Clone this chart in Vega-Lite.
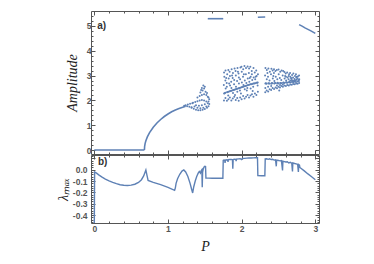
{
"$schema": "https://vega.github.io/schema/vega-lite/v6.json",
"autosize": {"type": "pad"},
"padding": {"left": 55, "top": 10, "right": 5, "bottom": 5},
"background": "white",
"spacing": 1,
"bounds": "flush",
"config": {
  "view": {"stroke": "#555", "strokeWidth": 1},
  "axis": {"domain": false, "grid": false, "labelFont": "Liberation Sans", "labelFontSize": 8.5, "labelFontWeight": "bold", "labelColor": "#555", "tickColor": "#555", "titleFont": "Liberation Serif", "titleFontStyle": "italic", "titleFontWeight": "normal", "titleColor": "#222", "titleFontSize": 14}
},
"datasets": {
  "curves": [
    {"g":"z","P":0,"A":0},{"g":"z","P":0.68,"A":0},
    {"g":"r","P":0.68,"A":0},{"g":"r","P":0.683,"A":0.15},{"g":"r","P":0.69,"A":0.27},{"g":"r","P":0.70,"A":0.37},{"g":"r","P":0.72,"A":0.53},{"g":"r","P":0.75,"A":0.70},{"g":"r","P":0.80,"A":0.92},{"g":"r","P":0.85,"A":1.09},{"g":"r","P":0.90,"A":1.23},{"g":"r","P":0.95,"A":1.35},{"g":"r","P":1.00,"A":1.45},{"g":"r","P":1.05,"A":1.54},{"g":"r","P":1.10,"A":1.61},{"g":"r","P":1.15,"A":1.67},{"g":"r","P":1.20,"A":1.72},{"g":"r","P":1.24,"A":1.76},
    {"g":"s1","P":1.54,"A":5.29},{"g":"s1","P":1.75,"A":5.29},
    {"g":"s2","P":2.22,"A":5.35},{"g":"s2","P":2.32,"A":5.36},
    {"g":"s3","P":2.78,"A":5.05},{"g":"s3","P":2.82,"A":4.99},{"g":"s3","P":2.86,"A":4.92},{"g":"s3","P":2.90,"A":4.86},{"g":"s3","P":2.94,"A":4.80},{"g":"s3","P":2.97,"A":4.75},{"g":"s3","P":3.00,"A":4.70}
  ],
  "pts": [
    {"P":1.22,"A":1.78},{"P":1.24,"A":1.80},{"P":1.26,"A":1.76},{"P":1.27,"A":1.83},{"P":1.29,"A":1.74},{"P":1.30,"A":1.86},{"P":1.32,"A":1.72},{"P":1.33,"A":1.88},
    {"P":1.32,"A":1.70},{"P":1.35,"A":1.66},{"P":1.38,"A":1.62},{"P":1.41,"A":1.60},{"P":1.44,"A":1.60},{"P":1.47,"A":1.62},{"P":1.50,"A":1.65},{"P":1.53,"A":1.70},{"P":1.55,"A":1.76},
    {"P":1.34,"A":1.90},{"P":1.37,"A":1.93},{"P":1.40,"A":1.96},{"P":1.43,"A":2.0},{"P":1.46,"A":2.02},{"P":1.49,"A":2.0},{"P":1.52,"A":1.95},{"P":1.54,"A":1.88},{"P":1.38,"A":1.80},{"P":1.42,"A":1.78},{"P":1.46,"A":1.80},{"P":1.50,"A":1.84},
    {"P":1.55,"A":1.95},{"P":1.56,"A":2.05},{"P":1.55,"A":2.12},{"P":1.56,"A":1.85},
    {"P":1.40,"A":2.12},{"P":1.43,"A":2.18},{"P":1.46,"A":2.22},{"P":1.49,"A":2.25},{"P":1.52,"A":2.22},{"P":1.54,"A":2.15},{"P":1.44,"A":2.32},{"P":1.47,"A":2.40},{"P":1.49,"A":2.48},{"P":1.50,"A":2.55},{"P":1.48,"A":2.60},{"P":1.46,"A":2.50},{"P":1.45,"A":2.42},{"P":1.51,"A":2.35},{"P":1.53,"A":2.30},
    {"P":1.36,"A":1.75},{"P":1.40,"A":1.70},{"P":1.44,"A":1.68},{"P":1.48,"A":1.70},{"P":1.52,"A":1.75},
    {"P":1.760,"A":2.00},{"P":1.762,"A":2.28},{"P":1.758,"A":2.62},{"P":1.765,"A":2.95},{"P":1.761,"A":3.12},
    {"P":1.780,"A":2.10},{"P":1.778,"A":2.31},{"P":1.783,"A":2.48},{"P":1.779,"A":2.80},{"P":1.781,"A":3.20},
    {"P":1.800,"A":1.98},{"P":1.802,"A":2.33},{"P":1.797,"A":2.70},{"P":1.804,"A":3.05},{"P":1.799,"A":2.55},
    {"P":1.820,"A":2.05},{"P":1.822,"A":2.35},{"P":1.818,"A":2.20},{"P":1.824,"A":2.88},{"P":1.819,"A":3.22},
    {"P":1.840,"A":2.12},{"P":1.838,"A":2.37},{"P":1.843,"A":2.60},{"P":1.841,"A":2.98},{"P":1.837,"A":3.15},
    {"P":1.860,"A":1.99},{"P":1.862,"A":2.39},{"P":1.858,"A":2.75},{"P":1.864,"A":3.25},{"P":1.861,"A":2.50},
    {"P":1.880,"A":2.08},{"P":1.879,"A":2.41},{"P":1.883,"A":2.30},{"P":1.878,"A":2.90},{"P":1.882,"A":3.10},
    {"P":1.900,"A":2.15},{"P":1.902,"A":2.43},{"P":1.897,"A":2.65},{"P":1.904,"A":3.28},{"P":1.899,"A":2.82},
    {"P":1.920,"A":2.02},{"P":1.918,"A":2.45},{"P":1.923,"A":2.55},{"P":1.921,"A":3.00},{"P":1.917,"A":3.18},
    {"P":1.940,"A":2.10},{"P":1.942,"A":2.47},{"P":1.938,"A":2.78},{"P":1.944,"A":3.30},{"P":1.941,"A":2.35},
    {"P":1.960,"A":1.98},{"P":1.959,"A":2.49},{"P":1.963,"A":2.68},{"P":1.958,"A":3.08},{"P":1.962,"A":2.92},
    {"P":1.980,"A":2.12},{"P":1.982,"A":2.51},{"P":1.977,"A":2.40},{"P":1.984,"A":3.32},{"P":1.979,"A":2.85},
    {"P":2.000,"A":2.05},{"P":1.998,"A":2.53},{"P":2.003,"A":2.72},{"P":2.001,"A":3.15},{"P":1.997,"A":3.35},
    {"P":2.020,"A":2.18},{"P":2.022,"A":2.55},{"P":2.018,"A":2.95},{"P":2.024,"A":2.62},{"P":2.021,"A":3.25},
    {"P":2.040,"A":2.08},{"P":2.039,"A":2.57},{"P":2.043,"A":2.80},{"P":2.038,"A":3.38},{"P":2.042,"A":2.45},
    {"P":2.060,"A":2.15},{"P":2.062,"A":2.59},{"P":2.057,"A":3.05},{"P":2.064,"A":2.70},{"P":2.059,"A":3.30},
    {"P":2.080,"A":2.22},{"P":2.078,"A":2.61},{"P":2.083,"A":2.88},{"P":2.081,"A":3.36},{"P":2.077,"A":2.50},
    {"P":2.100,"A":2.12},{"P":2.102,"A":2.63},{"P":2.098,"A":3.10},{"P":2.104,"A":2.75},{"P":2.101,"A":3.28},
    {"P":2.120,"A":2.20},{"P":2.119,"A":2.65},{"P":2.123,"A":2.95},{"P":2.118,"A":3.35},{"P":2.122,"A":2.48},
    {"P":2.140,"A":2.25},{"P":2.142,"A":2.66},{"P":2.137,"A":3.18},{"P":2.144,"A":2.82},{"P":2.139,"A":3.05},
    {"P":2.160,"A":2.15},{"P":2.158,"A":2.68},{"P":2.163,"A":2.92},{"P":2.161,"A":3.30},{"P":2.157,"A":2.55},
    {"P":2.180,"A":2.28},{"P":2.182,"A":2.69},{"P":2.178,"A":3.12},{"P":2.184,"A":2.85},
    {"P":2.200,"A":2.22},{"P":2.199,"A":2.71},{"P":2.203,"A":2.98},{"P":2.198,"A":3.20},
    {"P":2.220,"A":2.35},{"P":2.218,"A":2.72},{"P":2.221,"A":3.05},{"P":2.217,"A":2.60},
    {"P":1.770,"A":2.29},{"P":1.810,"A":2.34},{"P":1.850,"A":2.38},{"P":1.890,"A":2.42},{"P":1.930,"A":2.46},{"P":1.970,"A":2.50},{"P":2.010,"A":2.54},{"P":2.050,"A":2.58},{"P":2.090,"A":2.62},{"P":2.130,"A":2.65},{"P":2.170,"A":2.68},{"P":2.210,"A":2.71},
    {"P":1.790,"A":2.90},{"P":1.830,"A":2.68},{"P":1.870,"A":3.00},{"P":1.910,"A":2.22},{"P":1.950,"A":3.15},{"P":1.990,"A":2.28},{"P":2.030,"A":3.05},{"P":2.070,"A":2.40},{"P":2.110,"A":2.90},{"P":2.150,"A":2.38},{"P":2.190,"A":2.95},
    {"P":2.320,"A":2.33},{"P":2.322,"A":2.68},{"P":2.318,"A":3.00},{"P":2.323,"A":3.30},{"P":2.321,"A":2.50},
    {"P":2.340,"A":2.40},{"P":2.338,"A":2.67},{"P":2.342,"A":3.22},{"P":2.341,"A":2.85},
    {"P":2.360,"A":2.36},{"P":2.362,"A":2.69},{"P":2.358,"A":2.95},{"P":2.363,"A":3.28},{"P":2.359,"A":2.55},
    {"P":2.380,"A":2.45},{"P":2.379,"A":2.68},{"P":2.383,"A":3.15},{"P":2.378,"A":2.80},
    {"P":2.400,"A":2.42},{"P":2.402,"A":2.67},{"P":2.398,"A":3.05},{"P":2.404,"A":3.27},{"P":2.401,"A":2.58},
    {"P":2.420,"A":2.50},{"P":2.418,"A":2.69},{"P":2.423,"A":2.88},{"P":2.421,"A":3.20},
    {"P":2.440,"A":2.46},{"P":2.442,"A":2.68},{"P":2.438,"A":3.10},{"P":2.444,"A":2.78},{"P":2.439,"A":3.25},
    {"P":2.460,"A":2.52},{"P":2.459,"A":2.70},{"P":2.463,"A":2.95},{"P":2.458,"A":3.18},
    {"P":2.480,"A":2.49},{"P":2.482,"A":2.69},{"P":2.477,"A":3.22},{"P":2.484,"A":2.85},{"P":2.479,"A":2.60},
    {"P":2.500,"A":2.55},{"P":2.498,"A":2.68},{"P":2.503,"A":3.05},{"P":2.501,"A":3.24},
    {"P":2.520,"A":2.52},{"P":2.522,"A":2.70},{"P":2.518,"A":2.90},{"P":2.524,"A":3.15},{"P":2.521,"A":2.62},
    {"P":2.540,"A":2.58},{"P":2.539,"A":2.69},{"P":2.543,"A":3.20},{"P":2.538,"A":2.82},
    {"P":2.560,"A":2.55},{"P":2.562,"A":2.71},{"P":2.557,"A":3.00},{"P":2.564,"A":3.18},{"P":2.559,"A":2.64},
    {"P":2.580,"A":2.60},{"P":2.578,"A":2.70},{"P":2.583,"A":2.88},{"P":2.581,"A":3.14},
    {"P":2.600,"A":2.58},{"P":2.602,"A":2.72},{"P":2.598,"A":3.08},{"P":2.604,"A":2.80},{"P":2.601,"A":2.95},
    {"P":2.620,"A":2.62},{"P":2.619,"A":2.71},{"P":2.623,"A":2.92},{"P":2.618,"A":3.12},
    {"P":2.640,"A":2.60},{"P":2.642,"A":2.73},{"P":2.637,"A":2.85},{"P":2.644,"A":3.05},{"P":2.639,"A":2.98},
    {"P":2.660,"A":2.64},{"P":2.658,"A":2.72},{"P":2.663,"A":2.80},{"P":2.661,"A":2.95},{"P":2.657,"A":3.10},
    {"P":2.680,"A":2.63},{"P":2.682,"A":2.74},{"P":2.678,"A":2.88},{"P":2.684,"A":3.02},{"P":2.681,"A":2.82},
    {"P":2.700,"A":2.66},{"P":2.699,"A":2.73},{"P":2.703,"A":2.78},{"P":2.698,"A":2.92},{"P":2.702,"A":3.08},
    {"P":2.720,"A":2.65},{"P":2.722,"A":2.75},{"P":2.717,"A":2.86},{"P":2.724,"A":2.98},{"P":2.719,"A":2.80},
    {"P":2.740,"A":2.68},{"P":2.738,"A":2.74},{"P":2.743,"A":2.83},{"P":2.741,"A":2.92},{"P":2.737,"A":3.05},
    {"P":2.760,"A":2.67},{"P":2.762,"A":2.76},{"P":2.758,"A":2.88},{"P":2.763,"A":2.96},
    {"P":2.780,"A":2.70},{"P":2.778,"A":2.78},{"P":2.782,"A":2.85},{"P":2.779,"A":3.00},
    {"P":2.330,"A":2.69},{"P":2.370,"A":2.68},{"P":2.410,"A":2.70},{"P":2.450,"A":2.69},{"P":2.490,"A":2.71},{"P":2.530,"A":2.70},{"P":2.570,"A":2.72},{"P":2.610,"A":2.73},{"P":2.650,"A":2.76},{"P":2.690,"A":2.78},{"P":2.730,"A":2.80},{"P":2.770,"A":2.82},{"P":2.350,"A":3.10},{"P":2.430,"A":2.98},{"P":2.510,"A":2.40},{"P":2.590,"A":2.98},{"P":2.670,"A":2.90},{"P":2.750,"A":2.95}
  ],
  "lam": [
    {"P":0,"L":-0.47},{"P":0.004,"L":-0.02},{"P":0.03,"L":-0.03},{"P":0.06,"L":-0.045},{"P":0.10,"L":-0.063},{"P":0.15,"L":-0.082},{"P":0.20,"L":-0.098},{"P":0.25,"L":-0.111},{"P":0.30,"L":-0.123},{"P":0.35,"L":-0.132},{"P":0.40,"L":-0.137},{"P":0.45,"L":-0.139},{"P":0.50,"L":-0.136},{"P":0.55,"L":-0.128},{"P":0.60,"L":-0.112},{"P":0.64,"L":-0.088},{"P":0.67,"L":-0.055},{"P":0.69,"L":-0.02},{"P":0.70,"L":-0.002},{"P":0.715,"L":-0.05},{"P":0.73,"L":-0.095},{"P":0.80,"L":-0.112},{"P":0.90,"L":-0.132},{"P":1.00,"L":-0.155},{"P":1.09,"L":-0.182},{"P":1.10,"L":-0.16},{"P":1.11,"L":-0.12},{"P":1.13,"L":-0.08},{"P":1.16,"L":-0.04},{"P":1.19,"L":-0.012},{"P":1.215,"L":-0.002},{"P":1.24,"L":-0.02},{"P":1.27,"L":-0.06},{"P":1.30,"L":-0.12},{"P":1.32,"L":-0.17},{"P":1.335,"L":-0.205},{"P":1.35,"L":-0.15},{"P":1.37,"L":-0.10},{"P":1.39,"L":-0.06},{"P":1.41,"L":-0.03},{"P":1.425,"L":-0.015},{"P":1.44,"L":-0.03},{"P":1.45,"L":-0.01},{"P":1.46,"L":0.0},{"P":1.465,"L":-0.155},{"P":1.47,"L":-0.02},{"P":1.48,"L":0.01},{"P":1.49,"L":0.025},{"P":1.50,"L":0.03},{"P":1.51,"L":0.028},{"P":1.515,"L":-0.073},{"P":1.55,"L":-0.074},{"P":1.60,"L":-0.075},{"P":1.65,"L":-0.075},{"P":1.70,"L":-0.075},{"P":1.745,"L":-0.075},{"P":1.75,"L":0.082},{"P":1.76,"L":0.085},{"P":1.77,"L":0.083},{"P":1.775,"L":0.06},{"P":1.78,"L":0.086},{"P":1.80,"L":0.088},{"P":1.81,"L":0.084},{"P":1.815,"L":0.07},{"P":1.82,"L":0.089},{"P":1.84,"L":0.09},{"P":1.86,"L":0.091},{"P":1.875,"L":0.088},{"P":1.88,"L":0.01},{"P":1.885,"L":0.09},{"P":1.90,"L":0.093},{"P":1.92,"L":0.092},{"P":1.925,"L":0.075},{"P":1.93,"L":0.094},{"P":1.96,"L":0.096},{"P":1.98,"L":0.097},{"P":2.00,"L":0.09},{"P":2.01,"L":0.099},{"P":2.04,"L":0.1},{"P":2.07,"L":0.102},{"P":2.10,"L":0.103},{"P":2.13,"L":0.104},{"P":2.16,"L":0.105},{"P":2.19,"L":0.106},{"P":2.215,"L":0.106},{"P":2.22,"L":-0.052},{"P":2.27,"L":-0.053},{"P":2.315,"L":-0.053},{"P":2.32,"L":0.095},{"P":2.34,"L":0.097},{"P":2.36,"L":0.092},{"P":2.38,"L":0.096},{"P":2.40,"L":0.09},{"P":2.42,"L":0.093},{"P":2.44,"L":0.085},{"P":2.46,"L":0.088},{"P":2.47,"L":0.03},{"P":2.475,"L":0.085},{"P":2.50,"L":0.082},{"P":2.52,"L":0.078},{"P":2.54,"L":0.08},{"P":2.555,"L":-0.006},{"P":2.56,"L":0.075},{"P":2.58,"L":0.072},{"P":2.60,"L":0.068},{"P":2.62,"L":0.07},{"P":2.64,"L":0.06},{"P":2.66,"L":0.065},{"P":2.68,"L":0.058},{"P":2.69,"L":-0.015},{"P":2.695,"L":0.06},{"P":2.72,"L":0.055},{"P":2.74,"L":0.052},{"P":2.76,"L":0.048},{"P":2.77,"L":-0.02},{"P":2.775,"L":0.045},{"P":2.785,"L":0.04},{"P":2.79,"L":0.02},{"P":2.85,"L":-0.01},{"P":2.90,"L":-0.037},{"P":2.95,"L":-0.062},{"P":3.00,"L":-0.088}
  ],
  "tagA": [{"P":0.04,"A":5.0,"t":"a)"}],
  "tagB": [{"P":0.05,"L":0.07,"t":"b)"}]
},
"vconcat": [
  {
    "width": 228, "height": 143,
    "resolve": {"axis": {"x": "independent", "y": "independent"}},
    "layer": [
      {
        "data": {"name": "curves"},
        "mark": {"type": "line", "color": "#5e81b5", "strokeWidth": 1.6},
        "encoding": {
          "x": {"field": "P", "type": "quantitative", "scale": {"domain": [-0.045, 3.05], "nice": false, "zero": false},
                "axis": {"orient": "bottom", "values": [0,0.2,0.4,0.6,0.8,1,1.2,1.4,1.6,1.8,2,2.2,2.4,2.6,2.8,3], "labels": false, "title": null,
                         "tickSize": {"condition": {"test": "datum.value % 1 === 0", "value": -4}, "value": -2}}},
          "y": {"field": "A", "type": "quantitative", "scale": {"domain": [-0.16, 5.6], "nice": false, "zero": false},
                "axis": {"orient": "left", "values": [0,0.2,0.4,0.6,0.8,1,1.2,1.4,1.6,1.8,2,2.2,2.4,2.6,2.8,3,3.2,3.4,3.6,3.8,4,4.2,4.4,4.6,4.8,5,5.2,5.4],
                         "labelExpr": "datum.value % 1 === 0 ? format(datum.value, 'd') : ''", "title": "Amplitude", "titlePadding": 7, "labelPadding": 4,
                         "tickSize": {"condition": {"test": "datum.value % 1 === 0", "value": -4}, "value": -2}}},
          "detail": {"field": "g"}
        }
      },
      {
        "data": {"name": "pts"},
        "mark": {"type": "circle", "size": 4, "color": "#5e81b5", "opacity": 1},
        "encoding": {
          "x": {"field": "P", "type": "quantitative",
                "axis": {"orient": "top", "values": [0,0.2,0.4,0.6,0.8,1,1.2,1.4,1.6,1.8,2,2.2,2.4,2.6,2.8,3], "labels": false, "title": null,
                         "tickSize": {"condition": {"test": "datum.value % 1 === 0", "value": -4}, "value": -2}}},
          "y": {"field": "A", "type": "quantitative",
                "axis": {"orient": "right", "values": [0,0.2,0.4,0.6,0.8,1,1.2,1.4,1.6,1.8,2,2.2,2.4,2.6,2.8,3,3.2,3.4,3.6,3.8,4,4.2,4.4,4.6,4.8,5,5.2,5.4], "labels": false, "title": null,
                         "tickSize": {"condition": {"test": "datum.value % 1 === 0", "value": -4}, "value": -2}}}
        }
      },
      {
        "data": {"name": "tagA"},
        "mark": {"type": "text", "align": "left", "baseline": "middle", "font": "Liberation Sans", "fontWeight": "bold", "fontSize": 10, "color": "#333"},
        "encoding": {
          "x": {"field": "P", "type": "quantitative", "axis": null},
          "y": {"field": "A", "type": "quantitative", "axis": null},
          "text": {"field": "t"}
        }
      }
    ]
  },
  {
    "width": 228, "height": 68,
    "resolve": {"axis": {"x": "independent", "y": "independent"}},
    "layer": [
      {
        "mark": {"type": "rule", "color": "#ec9a9a", "strokeWidth": 1},
        "encoding": {
          "y": {"datum": 0, "type": "quantitative",
                "axis": {"orient": "right", "values": [-0.46,-0.44,-0.42,-0.4,-0.38,-0.36,-0.34,-0.32,-0.3,-0.28,-0.26,-0.24,-0.22,-0.2,-0.18,-0.16,-0.14,-0.12,-0.1,-0.08,-0.06,-0.04,-0.02,0,0.02,0.04,0.06,0.08,0.1,0.12], "labels": false, "title": null,
                         "tickSize": {"condition": {"test": "abs(datum.value*10 - round(datum.value*10)) < 0.000001", "value": -4}, "value": -2}}}
        }
      },
      {
        "data": {"name": "lam"},
        "mark": {"type": "line", "color": "#5e81b5", "strokeWidth": 1.4},
        "encoding": {
          "x": {"field": "P", "type": "quantitative", "scale": {"domain": [-0.045, 3.05], "nice": false, "zero": false},
                "axis": {"orient": "bottom", "values": [0,0.2,0.4,0.6,0.8,1,1.2,1.4,1.6,1.8,2,2.2,2.4,2.6,2.8,3],
                         "labelExpr": "datum.value % 1 === 0 ? format(datum.value, 'd') : ''", "title": "P", "labelPadding": 5, "titlePadding": 7,
                         "tickSize": {"condition": {"test": "datum.value % 1 === 0", "value": -4}, "value": -2}}},
          "y": {"field": "L", "type": "quantitative", "scale": {"domain": [-0.47, 0.13], "nice": false, "zero": false},
                "axis": {"orient": "left", "values": [-0.46,-0.44,-0.42,-0.4,-0.38,-0.36,-0.34,-0.32,-0.3,-0.28,-0.26,-0.24,-0.22,-0.2,-0.18,-0.16,-0.14,-0.12,-0.1,-0.08,-0.06,-0.04,-0.02,0,0.02,0.04,0.06,0.08,0.1,0.12],
                         "labelExpr": "abs(datum.value*10 - round(datum.value*10)) < 0.000001 && datum.value < 0.05 ? replace(format(datum.value, '.1f'), '\u2212', '-') : ''",
                         "title": "λₘₐₓ", "titlePadding": 2, "labelPadding": 8,
                         "tickSize": {"condition": {"test": "abs(datum.value*10 - round(datum.value*10)) < 0.000001", "value": -4}, "value": -2}}}
        }
      },
      {
        "data": {"name": "tagB"},
        "mark": {"type": "text", "align": "left", "baseline": "middle", "font": "Liberation Sans", "fontWeight": "bold", "fontSize": 10, "color": "#333"},
        "encoding": {
          "x": {"field": "P", "type": "quantitative",
                "axis": {"orient": "top", "values": [0,0.2,0.4,0.6,0.8,1,1.2,1.4,1.6,1.8,2,2.2,2.4,2.6,2.8,3], "labels": false, "title": null,
                         "tickSize": {"condition": {"test": "datum.value % 1 === 0", "value": -4}, "value": -2}}},
          "y": {"field": "L", "type": "quantitative", "axis": null},
          "text": {"field": "t"}
        }
      }
    ]
  }
]
}
